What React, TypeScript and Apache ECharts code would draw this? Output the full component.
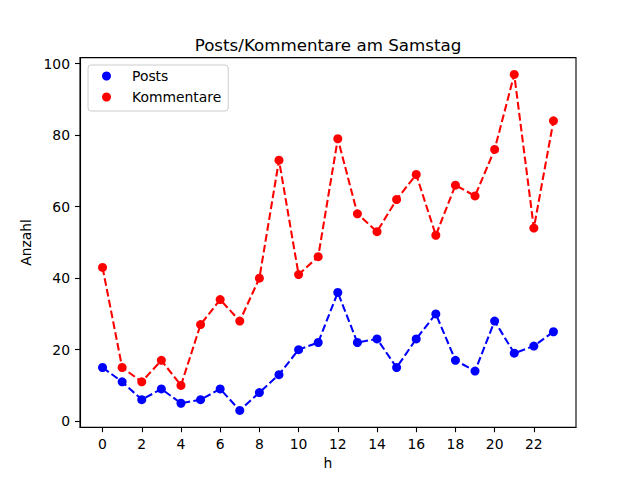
import React, { useEffect, useRef } from "react";
import * as echarts from "echarts";

const hours = [0, 1, 2, 3, 4, 5, 6, 7, 8, 9, 10, 11, 12, 13, 14, 15, 16, 17, 18, 19, 20, 21, 22, 23];
const posts = [15, 11, 6, 9, 5, 6, 9, 3, 8, 13, 20, 22, 36, 22, 23, 15, 23, 30, 17, 14, 28, 19, 21, 25];
const kommentare = [43, 15, 11, 17, 10, 27, 34, 28, 40, 73, 41, 46, 79, 58, 53, 62, 69, 52, 66, 63, 76, 97, 54, 84];
const xTicks = [0, 2, 4, 6, 8, 10, 12, 14, 16, 18, 20, 22];
const yTicks = [0, 20, 40, 60, 80, 100];

const FONT = "DejaVu Sans";

export default function App() {
  const ref = useRef<HTMLDivElement>(null);
  useEffect(() => {
    if (!ref.current) return;
    const chart = echarts.init(ref.current, undefined, { renderer: "svg" });
    const mkSeries = (name: string, data: number[], color: string) => ({
      name,
      type: "line",
      data: hours.map((h, i) => [h, data[i]]),
      symbol: "circle",
      symbolSize: 9,
      itemStyle: { color },
      lineStyle: { color, width: 2.08, type: [7.7, 3.3] },
      z: 3,
    });
    chart.setOption({
      animation: false,
      backgroundColor: "#ffffff",
      textStyle: { fontFamily: FONT },
      title: {
        text: "Posts/Kommentare am Samstag",
        left: 323,
        top: 31,
        textAlign: "center",
        textStyle: { fontFamily: FONT, fontSize: 16.7, fontWeight: "normal", color: "#000" },
      },
      legend: {
        orient: "vertical",
        left: 88,
        top: 65,
        padding: [4, 7, 7, 14],
        itemGap: 7,
        itemWidth: 9,
        itemHeight: 9,
        icon: "circle",
        backgroundColor: "rgba(255,255,255,0.8)",
        borderColor: "#cccccc",
        borderWidth: 1,
        borderRadius: 3,
        textStyle: { fontFamily: FONT, fontSize: 13.9, color: "#000", padding: [0, 0, 0, 16] },
        data: ["Posts", "Kommentare"],
      },
      grid: {
        left: 80,
        right: 64,
        top: 57.6,
        bottom: 52.8,
        show: true,
        borderColor: "#000",
        borderWidth: 1.1,
        backgroundColor: "#fff",
      },
      xAxis: {
        type: "value",
        min: -1.15,
        max: 24.15,
        name: "h",
        nameLocation: "middle",
        nameGap: 25,
        nameTextStyle: { fontFamily: FONT, fontSize: 13.9, color: "#000" },
        axisLine: { show: true, onZero: false, lineStyle: { color: "#000", width: 1.1 } },
        axisTick: { show: true, length: 5, lineStyle: { color: "#000", width: 1.1 }, customValues: xTicks },
        axisLabel: { margin: 10, fontFamily: FONT, fontSize: 13.9, color: "#000", customValues: xTicks },
        splitLine: { show: false },
      },
      yAxis: {
        type: "value",
        min: -1.7,
        max: 101.7,
        name: "Anzahl",
        nameLocation: "middle",
        nameGap: 40,
        nameTextStyle: { fontFamily: FONT, fontSize: 13.9, color: "#000" },
        axisLine: { show: true, onZero: false, lineStyle: { color: "#000", width: 1.1 } },
        axisTick: { show: true, length: 5, lineStyle: { color: "#000", width: 1.1 }, customValues: yTicks },
        axisLabel: { margin: 10, fontFamily: FONT, fontSize: 13.9, color: "#000", customValues: yTicks },
        splitLine: { show: false },
      },
      series: [mkSeries("Posts", posts, "#0000ff"), mkSeries("Kommentare", kommentare, "#ff0000")],
    });
    return () => chart.dispose();
  }, []);
  return (
    <div
      ref={ref}
      style={{ position: "fixed", left: 0, top: 0, width: 640, height: 480 }}
    />
  );
}
